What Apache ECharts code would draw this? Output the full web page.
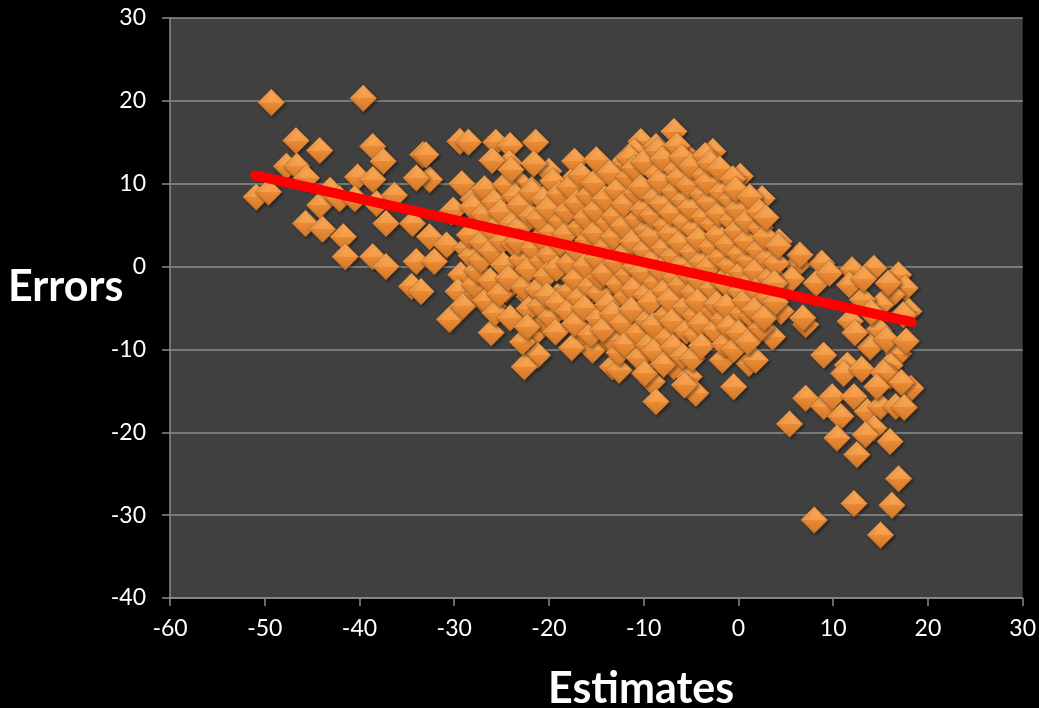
<!DOCTYPE html>
<html>
<head>
<meta charset="utf-8">
<script src="https://cdn.jsdelivr.net/npm/echarts@6/dist/echarts.min.js"></script>
<style>
html,body{margin:0;padding:0;background:#000;}
#chart{width:1039px;height:708px;}
</style>
</head>
<body>
<div id="chart"></div>
<script>
// ---- Data ----
const xTickRange = { min: -60, max: 30, step: 10 };
const yTickRange = { min: -40, max: 30, step: 10 };
const xAxisTitle = "Estimates";
const yAxisTitle = "Errors";

// Regression (trend) line end points: [estimate, error]
const trendLine = [[-51.0, 11.0], [18.3, -6.7]];

// Scatter points: [estimate, error]
const outerPoints = [
  [-49.3,19.8],[-39.6,20.3],[-46.7,15.2],[-44.2,14.0],[-38.6,14.5],[-37.5,12.7],[-33.3,13.5],[-32.6,10.5],
  [-34.0,10.7],[-47.7,12.1],[-46.6,12.1],[-45.6,10.7],[-50.9,8.4],[-49.6,9.0],[-44.2,7.4],[-43.1,9.2],
  [-42.1,8.2],[-40.2,10.8],[-40.5,8.2],[-38.6,10.5],[-38.2,7.6],[-36.3,8.6],[-37.2,5.2],[-45.7,5.2],
  [-43.9,4.5],[-41.7,3.6],[-41.5,1.2],[-38.6,1.2],[-37.2,0.0],[-34.4,5.2],[-32.6,3.6],[-30.8,2.6],
  [-34.0,0.6],[-32.1,0.6],[-34.5,-2.4],[-33.5,-3.0],[-30.5,-6.4],[-30.3,6.6],[-29.4,15.1],
  [-28.5,15.0],[-25.6,15.0],[-24.1,14.6],[-21.4,15.0],[-24.2,12.5],[-33.0,13.5],[-29.2,10.0],[-28.0,8.1],
  [-24.7,9.6],[-23.1,10.1],[-21.8,9.3],[-20.0,11.5],[-17.3,12.7],[-17.7,10.2],[-15.9,9.6],[-14.0,10.7],
  [-30.1,6.8],[-23.8,5.8],[-21.5,5.8],[-18.6,7.0],[-15.7,5.4],[-13.6,5.6],[-28.7,2.2],[-25.9,2.4],
  [-22.8,2.0],[-19.6,2.4],[-18.2,2.0],[-16.8,1.2],[-29.3,-1.0],[-27.5,0.4],[-24.0,-0.8],[-21.0,-1.0],
  [-18.2,-0.6],[-29.6,-3.0],[-27.7,-3.4],[-26.3,-4.8],[-24.5,-2.8],[-22.1,-3.6],[-19.1,-3.6],[-16.4,-4.0],
  [-29.1,-4.8],[-26.1,-8.0],[-21.7,-8.3],[-20.5,-6.6],[-18.2,-5.2],[-21.2,-10.7],[-22.6,-12.1],[-16.4,-8.5],
  [-15.4,-10.1],[-13.6,-8.9],[-13.3,-12.1],[-11.9,-7.5],[-25.9,-4.8],[-18.7,-3.8],
  [-6.8,16.3],[-10.3,15.1],[-11.0,13.9],[-8.7,14.5],[-5.9,13.9],[-2.7,13.9],[-12.4,12.3],[-9.4,12.1],
  [-7.3,11.5],[-5.0,12.3],[-2.2,11.5],[0.2,10.9],[-13.8,10.7],[-11.2,10.1],[-8.4,9.8],[-6.3,9.8],
  [-3.8,10.5],[-1.2,9.8],[2.5,8.2],[-12.6,8.2],[-10.1,7.4],[-7.7,8.2],[-5.6,6.4],[-1.9,6.8],
  [-0.3,8.0],[1.6,6.4],[4.3,3.0],[-13.3,3.6],[-10.3,2.4],[-8.4,4.6],[-4.5,3.6],[-0.6,3.6],
  [2.9,0.6],[-13.8,0.0],[-10.3,-1.2],[-7.7,0.4],[-5.2,-2.0],[-2.8,-1.2],[-0.3,0.0],[4.5,-2.2],
  [-12.6,-2.8],[-11.2,-4.0],[-7.7,-3.2],[-2.8,-4.0],[0.1,-3.6],[4.5,-5.4],[-13.6,-4.8],[-10.1,-6.0],
  [-6.3,-6.8],[-1.3,-6.4],[-3.8,-8.5],[1.3,-6.8],[3.6,-8.5],[-13.3,-8.9],[-9.9,-8.9],[-8.5,-10.3],
  [-6.8,-12.1],[-1.7,-11.3],[1.1,-11.7],[-12.6,-12.5],[-9.8,-11.5],[-9.1,-13.9],[-5.2,-13.3],[-4.5,-15.3],
  [-0.5,-14.5],[-8.7,-16.3],[-5.7,-14.3],[1.8,-11.3],
  [6.2,0.2],[8.8,0.4],[12.0,-0.4],[14.3,-0.2],[16.9,-1.0],[11.7,-2.2],[17.6,-2.6],[16.2,-3.4],
  [15.0,-4.6],[13.1,-4.0],[18.0,-5.4],[7.1,-7.0],[11.8,-6.6],[14.8,-7.7],[9.0,-10.7],[13.9,-9.7],
  [11.5,-11.9],[16.9,-10.5],[16.0,-11.9],[11.1,-12.9],[16.0,-13.3],[18.2,-14.7],[7.1,-15.9],[9.0,-16.9],
  [9.9,-15.7],[12.2,-15.7],[13.6,-17.5],[15.0,-16.9],[16.6,-16.9],[10.8,-18.1],[14.3,-19.5],[16.0,-21.1],
  [10.4,-20.7],[13.4,-20.3],[12.5,-22.7],[16.9,-25.6],[12.2,-28.6],[16.2,-28.8],[8.0,-30.6],[15.0,-32.4],
  [5.4,-19.0],[6.5,1.4],[5.6,-1.5],[8.2,-2.0],[9.6,-0.8],[6.8,-6.2],
  [13.2,-1.5],[15.8,-2.0],[17.4,-5.8],[14.0,-5.5],[12.3,-8.0],[15.6,-8.8],[17.7,-9.0],[13.0,-12.4],
  [15.3,-12.8],[17.2,-14.0],[14.6,-14.5],[17.5,-17.0]
];

const corePoints = [
  [-27.8,5.1],[-28.2,1.3],[-27.9,-2.2],[-28.4,3.8],[-27.6,-0.5],[-28.1,7.2],
  [-26.9,6.3],[-27.2,0.8],[-26.7,-4.1],[-27.1,2.9],[-26.8,9.4],
  [-25.9,4.4],[-26.2,-1.7],[-25.8,7.8],[-26.1,1.9],[-25.7,-5.6],[-26.0,12.8],
  [-24.9,3.1],[-25.2,-3.3],[-24.8,0.2],[-25.1,6.6],[-24.6,9.9],
  [-23.9,5.2],[-24.3,-1.4],[-23.7,2.7],[-24.1,-6.2],[-23.6,8.5],[-24.0,11.7],
  [-22.9,0.9],[-23.2,4.6],[-22.7,-2.5],[-23.1,7.4],[-22.8,-9.1],[-23.3,3.0],
  [-21.9,6.1],[-22.2,-0.3],[-21.7,2.2],[-22.1,-5.1],[-21.8,9.0],[-22.3,-7.3],[-21.6,12.4],
  [-20.8,3.5],[-21.2,-2.8],[-20.7,0.7],[-21.1,5.8],[-20.9,-4.7],[-20.6,8.1],
  [-19.9,1.4],[-20.3,-1.1],[-19.7,4.2],[-20.1,7.0],[-19.8,-6.1],[-20.2,-3.5],[-19.6,10.3],
  [-18.8,2.8],[-19.2,-0.2],[-18.7,5.5],[-19.1,-4.4],[-18.9,8.8],[-19.3,-7.9],
  [-17.9,0.4],[-18.3,3.9],[-17.7,-2.9],[-18.1,6.7],[-17.8,9.6],[-18.0,-5.4],[-17.6,-9.8],
  [-16.9,1.9],[-17.2,-1.5],[-16.7,4.8],[-17.1,7.7],[-16.8,-3.8],[-17.3,-6.9],[-16.6,11.0],
  [-15.9,3.2],[-16.2,0.1],[-15.7,-2.4],[-16.1,5.9],[-15.8,8.6],[-16.3,-5.0],[-15.6,-8.2],
  [-14.9,1.0],[-15.2,4.1],[-14.7,-3.2],[-15.1,6.8],[-14.8,-6.3],[-15.3,10.1],[-14.6,-1.2],[-15.0,12.9],
  [-13.9,2.5],[-14.2,-0.8],[-13.7,5.3],[-14.1,8.2],[-13.8,-4.6],[-14.3,-7.6],[-13.6,11.3],
  [-12.9,0.5],[-13.2,3.6],[-12.7,-2.1],[-13.1,6.1],[-12.8,9.2],[-13.3,-5.7],[-12.6,-10.4],
  [-11.9,1.7],[-12.2,4.9],[-11.7,-1.0],[-12.1,7.5],[-11.8,-3.6],[-12.3,-6.8],[-11.6,10.8],[-12.0,-9.4],[-11.5,13.1],
  [-10.9,0.0],[-11.2,3.0],[-10.7,5.7],[-11.1,-2.7],[-10.8,8.9],[-11.3,-5.2],[-10.6,-8.0],[-11.0,11.9],[-10.5,-11.0],
  [-9.9,2.0],[-10.2,-0.6],[-9.7,4.4],[-10.1,6.9],[-9.8,-3.4],[-10.3,9.6],[-9.6,-6.5],[-10.0,12.6],[-9.5,-9.5],[-9.9,-12.9],
  [-8.9,0.9],[-9.2,3.7],[-8.7,-1.9],[-9.1,6.2],[-8.8,8.3],[-9.3,-4.3],[-8.6,11.2],[-9.0,-7.1],[-8.5,14.0],[-8.9,-10.2],
  [-7.9,2.2],[-8.2,-0.4],[-7.7,5.0],[-8.1,7.6],[-7.8,-2.9],[-8.3,10.3],[-7.6,-5.8],[-8.0,13.0],[-7.5,-8.6],[-7.9,-11.8],
  [-6.9,1.3],[-7.2,4.0],[-6.7,-1.3],[-7.1,6.5],[-6.8,9.1],[-7.3,-4.0],[-6.6,11.7],[-7.0,-6.6],[-6.5,14.6],[-6.9,-9.7],
  [-5.9,0.3],[-6.2,2.9],[-5.7,5.4],[-6.1,-2.2],[-5.8,8.0],[-6.3,10.7],[-5.6,-4.9],[-6.0,13.2],[-5.5,-7.8],[-5.9,-10.8],
  [-4.9,1.8],[-5.2,-0.9],[-4.7,4.5],[-5.1,7.1],[-4.8,-3.1],[-5.3,9.8],[-4.6,-5.9],[-5.0,12.1],[-4.5,-8.2],[-4.9,-11.1],
  [-3.9,0.6],[-4.2,3.3],[-3.7,6.0],[-4.1,-1.6],[-3.8,8.7],[-4.3,-4.2],[-3.6,11.0],[-4.0,-6.9],[-3.5,13.4],[-3.9,-9.6],
  [-2.9,2.4],[-3.2,-0.1],[-2.7,5.1],[-3.1,7.8],[-2.8,-2.6],[-3.3,10.2],[-2.6,-5.3],[-3.0,12.5],[-2.5,-7.7],
  [-1.9,1.1],[-2.2,3.8],[-1.7,-1.8],[-2.1,6.4],[-1.8,9.0],[-2.3,-4.5],[-1.6,-6.3],[-2.0,11.8],[-1.5,-9.4],
  [-0.9,0.2],[-1.2,2.7],[-0.7,5.6],[-1.1,-2.3],[-0.8,8.1],[-1.3,-4.8],[-0.6,10.6],[-1.0,-7.3],[-0.5,-10.0],
  [0.1,1.5],[-0.2,4.3],[0.3,-0.7],[-0.1,6.9],[0.2,-3.0],[-0.3,9.3],[0.4,-5.6],[0.0,-8.0],
  [1.1,0.8],[0.8,3.1],[1.3,-1.7],[0.9,5.5],[1.2,8.4],[0.7,-4.1],[1.4,-6.0],[1.0,-9.1],
  [2.1,2.0],[1.8,-0.5],[2.3,4.7],[1.9,-2.8],[2.2,6.6],[1.7,-5.2],[2.4,-7.4],
  [3.1,1.0],[2.8,3.6],[3.3,-1.4],[2.9,5.9],[3.2,-3.7],[2.7,-6.2],
  [4.0,0.4],[3.8,-2.0],[4.2,2.5],[3.9,-4.3]
];

const scatterPoints = outerPoints.concat(corePoints);

const diamondFill = {
  type: 'linear', x: 0, y: 0, x2: 0, y2: 1,
  colorStops: [
    { offset: 0, color: '#fcae5c' },
    { offset: 0.5, color: '#f59b46' },
    { offset: 0.5, color: '#e98a36' },
    { offset: 1, color: '#d27929' }
  ]
};

const chart = echarts.init(document.getElementById('chart'), null, { renderer: 'canvas' });
const gridColor = '#8c8c8c';
chart.setOption({
  backgroundColor: '#000000',
  animation: false,
  textStyle: { fontFamily: 'Lato' },
  grid: {
    left: 170, right: 15, top: 18, bottom: 110,
    show: true, backgroundColor: '#404040', borderWidth: 0
  },
  xAxis: {
    type: 'value',
    min: xTickRange.min, max: xTickRange.max, interval: xTickRange.step,
    axisLine: { show: true, onZero: false, lineStyle: { color: gridColor, width: 1.5 } },
    axisTick: { show: true, length: 8, lineStyle: { color: gridColor, width: 1.5 } },
    axisLabel: { color: '#ffffff', fontSize: 23, fontFamily: 'Lato', margin: 19 },
    splitLine: { show: false }
  },
  yAxis: {
    type: 'value',
    min: yTickRange.min, max: yTickRange.max, interval: yTickRange.step,
    axisLine: { show: true, onZero: false, lineStyle: { color: gridColor, width: 1.5 } },
    axisTick: { show: true, length: 8, lineStyle: { color: gridColor, width: 1.5 } },
    axisLabel: { color: '#ffffff', fontSize: 23, fontFamily: 'Lato', margin: 24 },
    splitLine: { show: true, lineStyle: { color: gridColor, width: 1.5 } }
  },
  graphic: [
    { type: 'text', left: 8, top: 266, z: 10,
      style: { text: yAxisTitle, fill: '#ffffff', font: 'bold 43px Lato' } },
    { type: 'text', left: 548, top: 668, z: 10,
      style: { text: xAxisTitle, fill: '#ffffff', font: 'bold 43px Lato' } }
  ],
  series: [
    {
      type: 'scatter',
      data: scatterPoints,
      symbol: 'diamond',
      symbolSize: 27,
      z: 2,
      itemStyle: {
        opacity: 1,
        color: diamondFill,
        borderColor: '#a95f22',
        borderWidth: 0.6,
        shadowColor: 'rgba(0,0,0,0.45)',
        shadowBlur: 3,
        shadowOffsetX: 1.5,
        shadowOffsetY: 1.5
      },
      emphasis: { disabled: true }
    },
    {
      type: 'line',
      data: trendLine,
      symbol: 'none',
      z: 3,
      lineStyle: { color: '#ff0000', width: 10, cap: 'round' },
      emphasis: { disabled: true }
    }
  ]
});
</script>
</body>
</html>
